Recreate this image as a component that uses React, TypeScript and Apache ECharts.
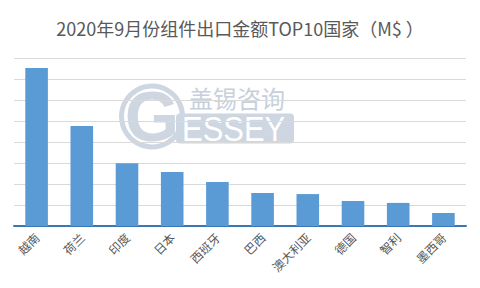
import React, { useEffect, useRef } from "react";
import * as echarts from "echarts";

const titleText = "2020年9月份组件出口金额TOP10国家（M$ ）";
const categories = ["越南", "荷兰", "印度", "日本", "西班牙", "巴西", "澳大利亚", "德国", "智利", "墨西哥"];
const values = [752, 476, 299, 257, 210, 157, 152, 119, 110, 62];
const yMax = 800;
const yInterval = 100;
const logoCn = "盖锡咨询";
const logoEn = "ESSEY";
const logoG = "G";

export default function App() {
  const ref = useRef<HTMLDivElement>(null);
  useEffect(() => {
    if (!ref.current) return;
    const chart = echarts.init(ref.current, undefined, { renderer: "svg" });
    const logoColor = "#cdd6e1";
    chart.setOption({
      animation: false,
      backgroundColor: "#ffffff",
      title: {
        text: titleText,
        left: "center",
        top: 14,
        textStyle: {
          fontSize: 18,
          fontWeight: "normal",
          color: "#595959",
          fontFamily: "Noto Sans CJK SC",
        },
      },
      graphic: {
        elements: [
          {
            type: "rect",
            z: -10,
            silent: true,
            shape: { x: 176, y: 113.5, width: 118, height: 30, r: 4 },
            style: { fill: logoColor },
          },
          {
            type: "circle",
            z: -10,
            silent: true,
            shape: { cx: 152, cy: 116.5, r: 30.5 },
            style: { fill: "none", stroke: logoColor, lineWidth: 5 },
          },
          {
            type: "text",
            z: -9,
            silent: true,
            x: 152,
            y: 117,
            style: {
              text: logoG,
              fill: logoColor,
              font: "bold 70px 'Liberation Sans'",
              align: "center",
              verticalAlign: "middle",
            },
          },
          {
            type: "text",
            z: -9,
            silent: true,
            x: 182,
            y: 129,
            scaleX: 0.86,
            style: {
              text: logoEn,
              fill: "#ffffff",
              font: "36px 'Liberation Sans'",
              align: "left",
              verticalAlign: "middle",
            },
          },
          {
            type: "text",
            z: -9,
            silent: true,
            x: 237,
            y: 97,
            style: {
              text: logoCn,
              fill: "#c6d0dc",
              font: "24px 'Noto Sans CJK SC'",
              align: "center",
              verticalAlign: "middle",
            },
          },
        ],
      },
      grid: { left: 14, right: 14, top: 58, bottom: 62, containLabel: false },
      xAxis: {
        type: "category",
        data: categories,
        axisLine: { lineStyle: { color: "#3a78b5", width: 2 } },
        axisTick: { show: false },
        axisLabel: {
          rotate: 45,
          interval: 0,
          color: "#595959",
          fontSize: 12,
          fontFamily: "Noto Sans CJK SC",
          margin: 9,
        },
      },
      yAxis: {
        type: "value",
        min: 0,
        max: yMax,
        interval: yInterval,
        axisLabel: { show: false },
        axisLine: { show: false },
        axisTick: { show: false },
        splitLine: { lineStyle: { color: "#d9d9d9", width: 1 } },
      },
      series: [
        {
          type: "bar",
          data: values,
          barWidth: "50%",
          itemStyle: { color: "#5b9bd5" },
        },
      ],
    });
    return () => chart.dispose();
  }, []);
  return (
    <div
      ref={ref}
      style={{ position: "fixed", left: 0, top: 0, width: 480, height: 288 }}
    />
  );
}
